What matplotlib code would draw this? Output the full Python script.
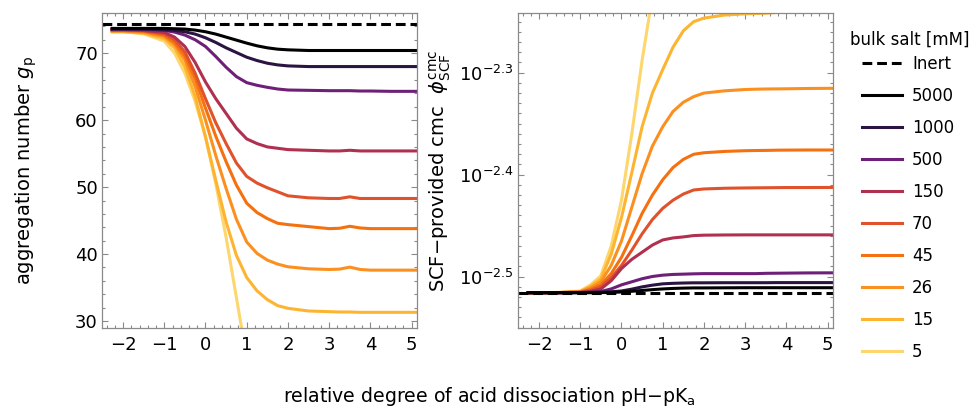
import numpy as np
import matplotlib
matplotlib.use("Agg")
import matplotlib.pyplot as plt
from matplotlib.ticker import FixedLocator, MultipleLocator, FixedFormatter

plt.rcParams['font.family'] = ['DejaVu Sans']
plt.rcParams['mathtext.fontset'] = 'dejavusans'

# ---------------- data ----------------
x = [-2.3, -2.0, -1.5, -1.0, -0.75, -0.5, -0.25, 0.0, 0.25, 0.5, 0.75, 1.0,
     1.25, 1.5, 1.75, 2.0, 2.5, 3.0, 3.25, 3.5, 3.75, 4.0, 4.5, 5.2]

salts = ["5000", "1000", "500", "150", "70", "45", "26", "15", "5"]
colors = ["#000000", "#2b1342", "#6e1f78", "#b0304f", "#e0522c",
          "#f5700f", "#fb9020", "#fdb531", "#fed66e"]

inert_g = 74.3
inert_logc = -2.5157

# aggregation number g_p
g5000 = [73.7, 73.7, 73.7, 73.7, 73.65, 73.6, 73.45, 73.2, 72.85, 72.4, 71.95, 71.5,
         71.1, 70.8, 70.6, 70.5, 70.4, 70.4, 70.4, 70.4, 70.4, 70.4, 70.4, 70.4]
g1000 = [73.6, 73.6, 73.6, 73.5, 73.4, 73.2, 72.85, 72.3, 71.6, 70.8, 70.1, 69.4,
         68.9, 68.5, 68.25, 68.1, 68.0, 68.0, 68.0, 68.0, 68.0, 68.0, 68.0, 68.0]
g500 = [73.6, 73.6, 73.55, 73.4, 73.15, 72.7, 72.0, 71.0, 69.5, 67.9, 66.5, 65.6,
        65.2, 64.9, 64.65, 64.5, 64.45, 64.4, 64.4, 64.4, 64.35, 64.35, 64.3, 64.3]
g150 = [73.5, 73.5, 73.4, 73.1, 72.4, 71.0, 68.6, 65.7, 63.2, 61.0, 58.8, 57.2,
        56.5, 56.0, 55.8, 55.6, 55.5, 55.4, 55.4, 55.5, 55.4, 55.4, 55.4, 55.4]
g70 = [73.5, 73.5, 73.35, 72.9, 72.0, 70.2, 67.0, 63.2, 59.6, 56.5, 53.6, 51.6,
       50.6, 49.9, 49.3, 48.7, 48.4, 48.3, 48.3, 48.55, 48.3, 48.3, 48.3, 48.3]
g45 = [73.4, 73.4, 73.25, 72.7, 71.6, 69.6, 66.2, 61.8, 57.6, 53.8, 50.3, 47.6,
       46.2, 45.3, 44.6, 44.4, 44.1, 43.8, 43.85, 44.15, 43.9, 43.8, 43.8, 43.8]
g26 = [73.3, 73.3, 73.15, 72.5, 71.3, 69.0, 65.0, 60.0, 54.7, 49.8, 45.2, 41.8,
       40.1, 39.1, 38.5, 38.1, 37.8, 37.7, 37.75, 38.05, 37.7, 37.6, 37.6, 37.6]
g15 = [73.2, 73.2, 73.0, 72.2, 70.8, 68.0, 63.5, 57.5, 51.0, 44.8, 39.8, 36.5,
       34.5, 33.2, 32.3, 31.9, 31.5, 31.4, 31.35, 31.35, 31.3, 31.3, 31.3, 31.3]
g5 = [73.2, 73.2, 72.9, 71.8, 70.0, 67.0, 62.8, 57.5, 50.5, 42.5, 33.5, 24.5,
      15.0, None, None, None, None, None, None, None, None, None, None, None]

# log10 of SCF-provided cmc
c5000 = [-2.5157, -2.5157, -2.5157, -2.5157, -2.5157, -2.5156, -2.5154, -2.5150, -2.5143, -2.5135, -2.5127, -2.5120,
         -2.5115, -2.5112, -2.5110, -2.5110, -2.5109, -2.5108, -2.5108, -2.5108, -2.5108, -2.5108, -2.5108, -2.5108]
c1000 = [-2.5157, -2.5157, -2.5157, -2.5156, -2.5155, -2.5153, -2.5148, -2.5140, -2.5122, -2.5100, -2.5083, -2.5070,
         -2.5065, -2.5062, -2.5060, -2.5060, -2.5059, -2.5059, -2.5059, -2.5059, -2.5058, -2.5058, -2.5058, -2.5058]
c500 = [-2.5157, -2.5157, -2.5157, -2.5155, -2.5152, -2.5145, -2.5120, -2.5080, -2.5050, -2.5020, -2.4998, -2.4985,
        -2.4978, -2.4975, -2.4972, -2.4970, -2.4970, -2.4970, -2.4970, -2.4967, -2.4966, -2.4965, -2.4963, -2.4962]
c150 = [-2.5157, -2.5157, -2.5157, -2.5155, -2.5145, -2.5120, -2.5040, -2.4920, -2.4830, -2.4760, -2.4690, -2.4640,
        -2.4620, -2.4610, -2.4597, -2.4593, -2.4591, -2.4590, -2.4590, -2.4590, -2.4590, -2.4590, -2.4590, -2.4590]
c70 = [-2.5157, -2.5157, -2.5156, -2.5153, -2.5135, -2.5100, -2.5010, -2.4890, -2.4740, -2.4580, -2.4440, -2.4330,
       -2.4250, -2.4190, -2.4150, -2.4140, -2.4133, -2.4130, -2.4129, -2.4128, -2.4127, -2.4126, -2.4126, -2.4125]
c45 = [-2.5157, -2.5157, -2.5156, -2.5150, -2.5125, -2.5080, -2.4970, -2.4810, -2.4600, -2.4380, -2.4200, -2.4050,
       -2.3930, -2.3850, -2.3800, -2.3785, -2.3772, -2.3765, -2.3763, -2.3762, -2.3760, -2.3759, -2.3758, -2.3758]
c26 = [-2.5157, -2.5157, -2.5155, -2.5148, -2.5110, -2.5050, -2.4890, -2.4650, -2.4320, -2.3990, -2.3720, -2.3530,
       -2.3380, -2.3290, -2.3235, -2.3200, -2.3178, -2.3165, -2.3162, -2.3160, -2.3159, -2.3158, -2.3155, -2.3153]
c15 = [-2.5157, -2.5157, -2.5155, -2.5145, -2.5095, -2.5020, -2.4780, -2.4420, -2.3980, -2.3530, -2.3200, -2.2970,
       -2.2750, -2.2590, -2.2500, -2.2465, -2.2435, -2.2423, -2.2420, -2.2417, -2.2410, -2.2400, -2.2395, -2.2390]
c5 = [-2.5157, -2.5157, -2.5154, -2.5140, -2.5080, -2.4990, -2.4700, -2.4250, -2.3600, -2.2880, -2.2250, -2.1600,
      -2.1000, None, None, None, None, None, None, None, None, None, None, None]

g_series = [g5000, g1000, g500, g150, g70, g45, g26, g15, g5]
c_series = [c5000, c1000, c500, c150, c70, c45, c26, c15, c5]

xticks = [-2, -1, 0, 1, 2, 3, 4, 5]
g_ticks = [30, 40, 50, 60, 70]
c_tick_exps = [-2.5, -2.4, -2.3]

# ---------------- figure ----------------
fig = plt.figure(figsize=(9.69, 4.09), dpi=100)
axL = fig.add_axes([102/969, 1-328/409, 315/969, 315/409])
axR = fig.add_axes([518/969, 1-328/409, 315/969, 315/409])

LW = 2.2
dash = (0, (3.2, 1.6))
frame_col = "#8a8a8a"

def arr(v):
    return np.array([np.nan if a is None else a for a in v], dtype=float)

xa = np.array(x)
handles = []
h_inert, = axL.plot([], [], color="black", lw=LW, linestyle=dash, label="Inert")
handles.append(h_inert)
for i in range(len(salts) - 1, -1, -1):
    axL.plot(xa, arr(g_series[i]), color=colors[i], lw=LW, solid_capstyle='butt')
    axR.plot(xa, 10 ** arr(c_series[i]), color=colors[i], lw=LW, solid_capstyle='butt')
axL.axhline(inert_g, color="black", lw=LW, linestyle=dash)
axR.axhline(10 ** inert_logc, color="black", lw=LW, linestyle=dash)
for i in range(len(salts)):
    h, = axL.plot([], [], color=colors[i], lw=LW, label=salts[i])
    handles.append(h)

for ax in (axL, axR):
    ax.set_xlim(-2.51, 5.13)
    ax.xaxis.set_major_locator(FixedLocator(xticks))
    ax.xaxis.set_minor_locator(MultipleLocator(0.2))
    ax.tick_params(which='both', direction='in', top=True, right=True,
                   color=frame_col, width=0.8, labelsize=13)
    ax.tick_params(which='major', length=4.5)
    ax.tick_params(which='minor', length=2.5)
    ax.tick_params(axis='x', pad=6)
    ax.tick_params(axis='y', pad=3)
    for s in ax.spines.values():
        s.set_color(frame_col)
        s.set_linewidth(0.9)

axL.set_ylim(28.96, 76.0)
axL.yaxis.set_major_locator(FixedLocator(g_ticks))
axL.yaxis.set_minor_locator(MultipleLocator(2))
axL.set_ylabel(r"aggregation number $g_\mathrm{p}$", fontsize=14, labelpad=26)

axR.set_yscale('log')
axR.set_ylim(10 ** -2.5503, 10 ** -2.2415)
axR.yaxis.set_major_locator(FixedLocator([10 ** e for e in c_tick_exps]))
axR.yaxis.set_major_formatter(FixedFormatter([r"$10^{%.1f}$" % e for e in c_tick_exps]))
axR.yaxis.set_minor_locator(FixedLocator([10 ** (-2.55 + 0.01 * k) for k in range(32)]))
axR.yaxis.set_minor_formatter(FixedFormatter([""] * 32))
axR.set_ylabel(r"SCF$-$provided cmc  $\phi^{\mathrm{cmc}}_{\mathrm{SCF}}$", fontsize=14, labelpad=4)

fig.text(0.505, 0.03, r"relative degree of acid dissociation pH$-$pK$_\mathrm{a}$",
         ha='center', va='center', fontsize=13.6)

fig.text(850/969, 1-40/409, "bulk salt [mM]", ha='left', va='center', fontsize=12)
leg = fig.legend(handles=handles, loc='upper left', bbox_to_anchor=(862/969, 1-55/409),
                 frameon=False, fontsize=12,
                 handlelength=2.4, handletextpad=0.6, labelspacing=0.84,
                 borderaxespad=0, borderpad=0)

fig.savefig("out.png", dpi=100)
